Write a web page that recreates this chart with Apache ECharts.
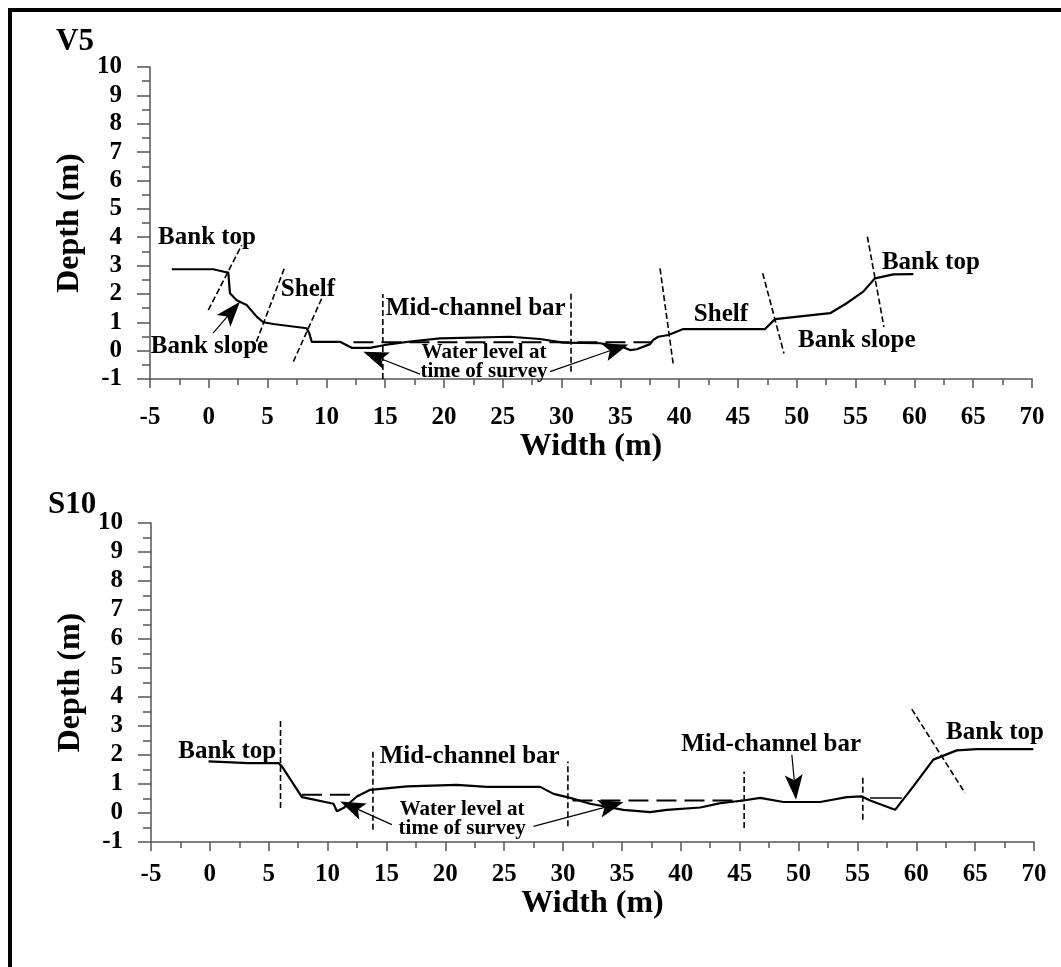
<!DOCTYPE html>
<html>
<head>
<meta charset="utf-8">
<title>Channel cross-sections V5 and S10</title>
<script src="https://cdn.jsdelivr.net/npm/echarts/dist/echarts.min.js"></script>
<style>
  html, body { margin: 0; padding: 0; background: #fff; }
  #chart { width: 1061px; height: 967px; }
</style>
</head>
<body>
<div id="chart"></div>
<script>
// ---- Survey data: [width (m), depth (m)] ----
const widthRange = [-5, 70];
const depthRange = [-1, 10];

// Cross-section V5
const v5Profile = [[-3.15,2.87],[0.38,2.87],[1.29,2.78],[1.66,2.75],[1.80,2.02],[2.37,1.78],[3.22,1.61],[4.07,1.20],[4.63,1.00],[5.48,0.94],[8.32,0.79],[8.55,0.61],[8.75,0.31],[11.16,0.31],[12.15,0.10],[13.71,0.10],[14.98,0.20],[17.3,0.33],[19.66,0.43],[25.61,0.49],[28.16,0.41],[30.14,0.28],[33.27,0.26],[34.97,0.16],[35.82,0.02],[36.39,0.05],[37.52,0.23],[37.8,0.38],[38.22,0.49],[39.07,0.55],[40.35,0.76],[47.30,0.76],[48.15,1.11],[52.83,1.32],[54.24,1.67],[55.65,2.08],[56.65,2.55],[58.21,2.69],[59.91,2.70]];
const v5Water = [[[12.3,0.30],[37.6,0.30]]];
const v5Bounds = [
  [[-0.04,1.43],[2.80,3.72]],
  [[3.78,0.02],[6.42,2.90]],
  [[7.19,-0.39],[9.60,1.84]],
  [[14.8,-1.0],[14.8,2.0]],
  [[30.8,-0.74],[30.8,2.02]],
  [[38.37,2.90],[39.50,-0.51]],
  [[47.10,2.73],[48.91,-0.10]],
  [[56.0,4.02],[57.41,0.84]]
];
// arrows: [tail, tip]
const v5Arrows = [
  [[0.36,0.62],[2.65,1.72]],
  [[17.96,-0.83],[13.14,-0.04]],
  [[29.01,-0.74],[35.67,0.22]]
];
const v5Notes = [
  ['Bank top', -0.15, 4.0],
  ['Bank slope', 0.06, 0.13],
  ['Shelf', 8.43, 2.17],
  ['Mid-channel bar', 22.7, 1.5],
  ['Water level at\ntime of survey', 23.4, -0.4],
  ['Shelf', 43.55, 1.26],
  ['Bank slope', 55.1, 0.37],
  ['Bank top', 61.4, 3.09]
];

// Cross-section S10
const s10Profile = [[-0.11,1.78],[3.29,1.72],[5.83,1.72],[6.12,1.61],[7.82,0.55],[10.50,0.32],[10.79,0.06],[11.35,0.17],[12.49,0.57],[13.62,0.80],[16.74,0.92],[20.98,0.97],[23.53,0.90],[28.06,0.90],[29.19,0.66],[30.60,0.52],[32.30,0.32],[35.13,0.11],[37.40,0.03],[38.81,0.11],[41.66,0.19],[43.36,0.34],[45.32,0.43],[46.74,0.52],[48.72,0.38],[51.83,0.38],[54.10,0.55],[55.37,0.57],[56.08,0.43],[58.20,0.11],[59.75,0.92],[61.45,1.84],[63.44,2.16],[65.14,2.20],[69.94,2.20]];
const s10Water = [[[7.82,0.63],[12.6,0.63]], [[30.8,0.43],[45.3,0.43]]];
const s10Pool = [[56.08,0.52],[58.77,0.52]];
const s10Bounds = [
  [[6.0,0.17],[6.0,3.27]],
  [[13.85,-0.58],[13.85,2.18]],
  [[30.41,-0.46],[30.41,1.78]],
  [[45.38,-0.52],[45.38,1.43]],
  [[55.46,-0.23],[55.46,1.32]],
  [[59.62,3.58],[64.14,0.69]]
];
const s10Arrows = [
  [[15.46,-0.40],[11.07,0.40]],
  [[27.49,-0.46],[35.13,0.37]],
  [[49.43,2.01],[49.79,0.46]]
];
const s10Notes = [
  ['Bank top', 1.48, 2.11],
  ['Mid-channel bar', 22.07, 1.94],
  ['Water level at\ntime of survey', 21.43, -0.20],
  ['Mid-channel bar', 47.67, 2.35],
  ['Bank top', 66.69, 2.77]
];

// ---- Styling helpers ----
const FONT = "'Liberation Serif', 'Times New Roman', serif";
const AXIS_COLOR = '#555';
const TICK_FONT = 25;

function xAxisFor(gridIndex, labelMargin, nameGap) {
  return {
    type: 'value', gridIndex,
    min: widthRange[0], max: widthRange[1], interval: 5,
    name: 'Width (m)', nameLocation: 'middle', nameGap,
    nameTextStyle: { fontFamily: FONT, fontSize: 32, fontWeight: 'bold', color: '#000' },
    axisLine: { show: true, onZero: false, lineStyle: { color: AXIS_COLOR, width: 1.5 } },
    axisTick: { show: true, length: 9, lineStyle: { color: AXIS_COLOR, width: 1.5 } },
    minorTick: { show: true, splitNumber: 2, length: 6, lineStyle: { color: AXIS_COLOR, width: 1.5 } },
    splitLine: { show: false },
    axisLabel: { margin: labelMargin, fontFamily: FONT, fontSize: TICK_FONT, fontWeight: 'bold', color: '#000' }
  };
}
function yAxisFor(gridIndex) {
  return {
    type: 'value', gridIndex,
    min: depthRange[0], max: depthRange[1], interval: 1,
    name: 'Depth (m)', nameLocation: 'middle', nameGap: 61, nameRotate: 90,
    nameTextStyle: { fontFamily: FONT, fontSize: 32, fontWeight: 'bold', color: '#000' },
    axisLine: { show: true, onZero: false, lineStyle: { color: AXIS_COLOR, width: 1.5 } },
    axisTick: { show: true, length: 13, lineStyle: { color: AXIS_COLOR, width: 1.5 } },
    minorTick: { show: true, splitNumber: 2, length: 8, lineStyle: { color: AXIS_COLOR, width: 1.5 } },
    splitLine: { show: false },
    axisLabel: { margin: 28, fontFamily: FONT, fontSize: TICK_FONT, fontWeight: 'bold', color: '#000' }
  };
}

function seg(idx, data, lineStyle) {
  return {
    type: 'line', xAxisIndex: idx, yAxisIndex: idx, data,
    symbol: 'none', silent: true, animation: false, z: 2,
    lineStyle
  };
}

// Arrow: thin shaft from tail to a filled, slightly notched head at the tip
function arrowSeries(idx, arrows) {
  return {
    type: 'custom', xAxisIndex: idx, yAxisIndex: idx, silent: true, animation: false, z: 6,
    data: arrows.map(a => [a[0][0], a[0][1], a[1][0], a[1][1]]),
    renderItem: function (params, api) {
      const p1 = api.coord([api.value(0), api.value(1)]);
      const p2 = api.coord([api.value(2), api.value(3)]);
      const dx = p2[0] - p1[0], dy = p2[1] - p1[1];
      const len = Math.sqrt(dx * dx + dy * dy) || 1;
      const ux = dx / len, uy = dy / len;
      const L = 25, W = 9;
      const bx = p2[0] - ux * L, by = p2[1] - uy * L;
      const nx = p2[0] - ux * L * 0.78, ny = p2[1] - uy * L * 0.78;
      return {
        type: 'group',
        children: [
          { type: 'line', shape: { x1: p1[0], y1: p1[1], x2: nx, y2: ny },
            style: { stroke: '#000', lineWidth: 1.2 } },
          { type: 'polygon',
            shape: { points: [[p2[0], p2[1]], [bx - uy * W, by + ux * W], [nx, ny], [bx + uy * W, by - ux * W]] },
            style: { fill: '#000' } }
        ]
      };
    }
  };
}

// Annotation text centred on a data position
function noteSeries(idx, notes) {
  return {
    type: 'custom', xAxisIndex: idx, yAxisIndex: idx, silent: true, animation: false, z: 7,
    data: notes.map(n => [n[1], n[2]]),
    renderItem: function (params, api) {
      const p = api.coord([api.value(0), api.value(1)]);
      const text = notes[params.dataIndex][0];
      const twoLine = text.indexOf('\n') >= 0;
      return {
        type: 'text', x: p[0], y: p[1],
        style: {
          text, fill: '#000',
          fontFamily: FONT, fontWeight: 'bold',
          fontSize: twoLine ? 21 : 25, lineHeight: twoLine ? 19 : 25,
          align: 'center', verticalAlign: 'middle'
        }
      };
    }
  };
}

function panelSeries(idx, profile, water, bounds, arrows, notes, pool) {
  const out = [];
  out.push({
    type: 'line', xAxisIndex: idx, yAxisIndex: idx, data: profile,
    symbol: 'none', silent: true, animation: false, z: 3,
    lineStyle: { color: '#000', width: 2.2 }
  });
  water.forEach(w => out.push(seg(idx, w, { color: '#000', width: 2, type: [20, 8] })));
  if (pool) out.push(seg(idx, pool, { color: '#000', width: 1.5 }));
  bounds.forEach(b => out.push(seg(idx, b, { color: '#000', width: 1.6, type: [6, 3] })));
  out.push(arrowSeries(idx, arrows));
  out.push(noteSeries(idx, notes));
  return out;
}

const chart = echarts.init(document.getElementById('chart'), null, { renderer: 'canvas' });
chart.setOption({
  backgroundColor: '#fff',
  animation: false,
  title: [
    { text: 'V5', left: 51, top: 21, textStyle: { fontFamily: FONT, fontSize: 31, fontWeight: 'bold', color: '#000' } },
    { text: 'S10', left: 43, top: 484, textStyle: { fontFamily: FONT, fontSize: 31, fontWeight: 'bold', color: '#000' } }
  ],
  grid: [
    { left: 150, right: 29, top: 67, height: 312 },
    { left: 151, right: 27, top: 523, height: 319 }
  ],
  xAxis: [xAxisFor(0, 26, 36), xAxisFor(1, 20, 33)],
  yAxis: [yAxisFor(0), yAxisFor(1)],
  graphic: [
    { type: 'rect', left: 8, top: 8, shape: { width: 4, height: 959 }, style: { fill: '#000' } },
    { type: 'rect', left: 8, top: 8, shape: { width: 1053, height: 4 }, style: { fill: '#000' } }
  ],
  series: [].concat(
    panelSeries(0, v5Profile, v5Water, v5Bounds, v5Arrows, v5Notes, null),
    panelSeries(1, s10Profile, s10Water, s10Bounds, s10Arrows, s10Notes, s10Pool)
  )
});
</script>
</body>
</html>
